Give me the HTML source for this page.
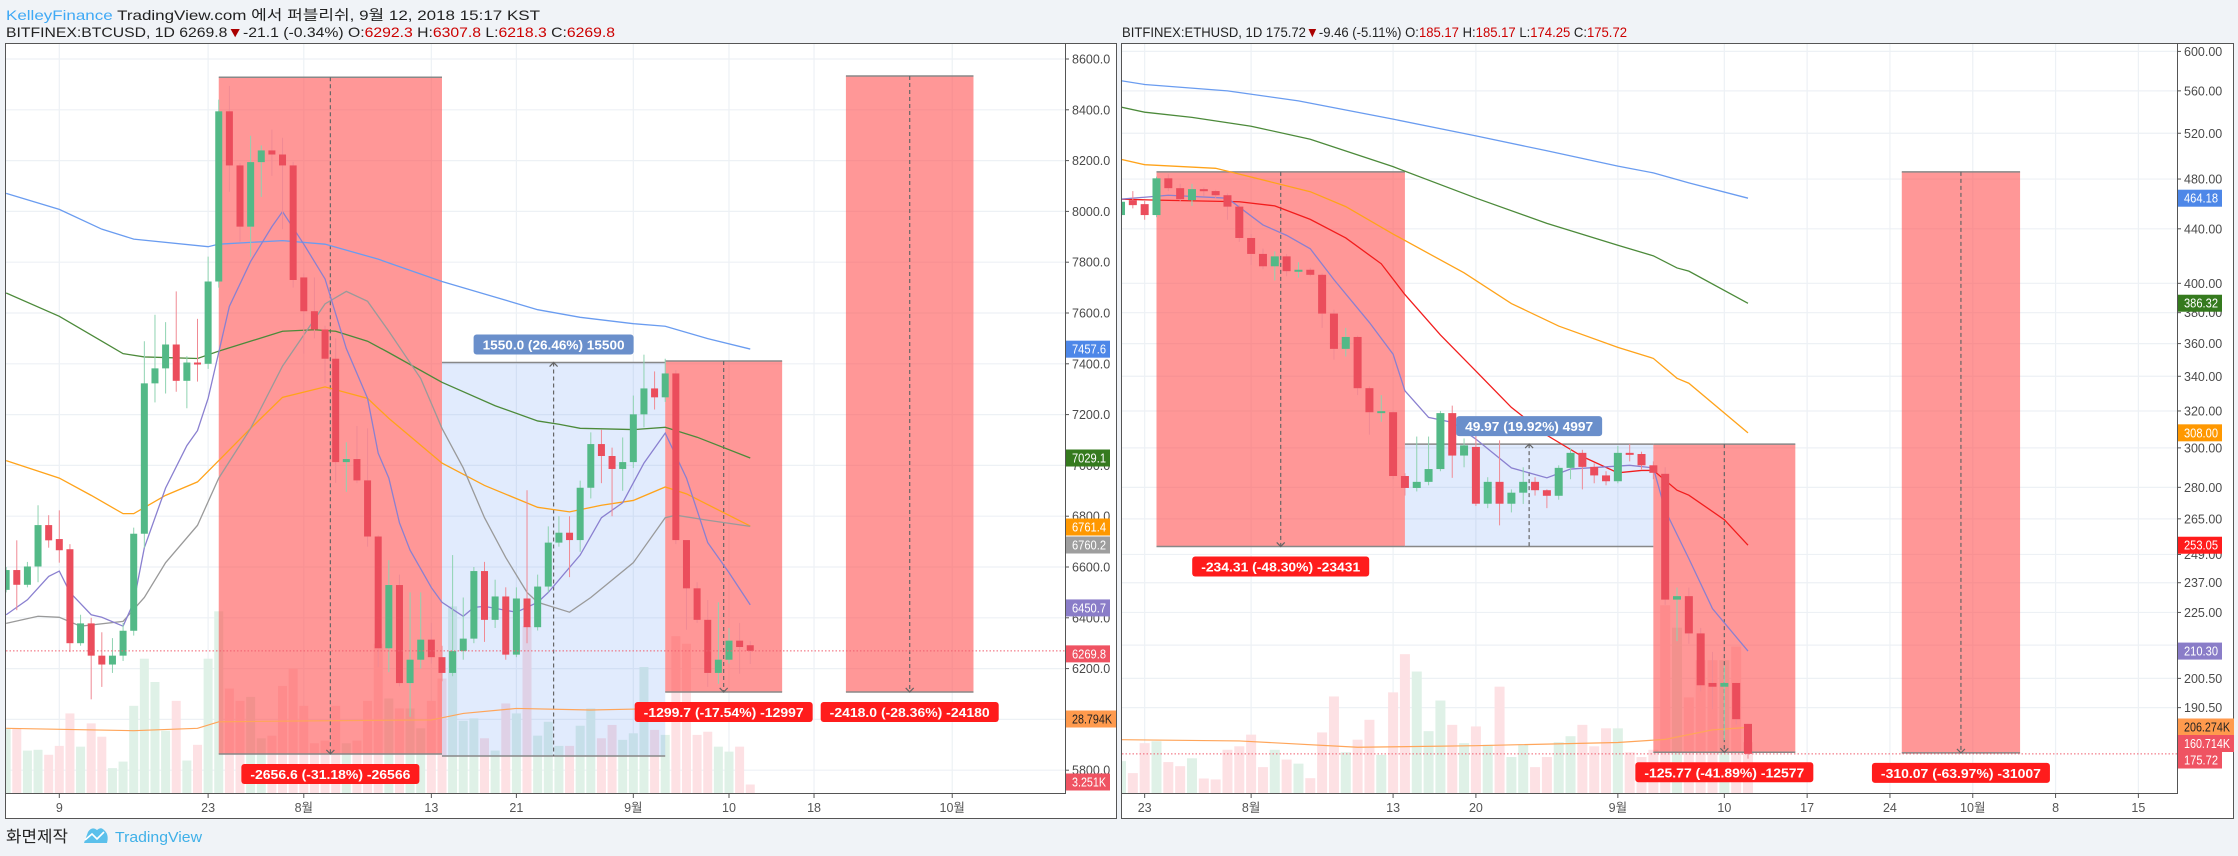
<!DOCTYPE html>
<html><head><meta charset="utf-8">
<style>
body{margin:0;background:#f0f3f7;}
svg{display:block;font-family:"Liberation Sans","Noto Sans CJK KR",sans-serif;}
</style></head>
<body>
<svg id="root" width="2238" height="856" viewBox="0 0 2238 856" xmlns="http://www.w3.org/2000/svg">
<defs>
<clipPath id="clipL"><rect x="6" y="44" width="1059" height="749"/></clipPath>
<clipPath id="clipR"><rect x="1122" y="44" width="1055" height="749"/></clipPath>
</defs>
<rect x="0" y="0" width="2238" height="856" fill="#f0f3f7"/>
<text x="6" y="20" font-size="14" fill="#222" textLength="534" lengthAdjust="spacingAndGlyphs"><tspan fill="#3fa9f5">KelleyFinance</tspan> TradingView.com 에서 퍼블리쉬, 9월 12, 2018 15:17 KST</text>
<text x="6" y="37" font-size="14" fill="#222" textLength="609" lengthAdjust="spacingAndGlyphs">BITFINEX:BTCUSD, 1D 6269.8<tspan fill="#a00">▼</tspan>-21.1 (-0.34%) O:<tspan fill="#c00">6292.3</tspan> H:<tspan fill="#c00">6307.8</tspan> L:<tspan fill="#c00">6218.3</tspan> C:<tspan fill="#c00">6269.8</tspan></text>
<text x="1122" y="37" font-size="14" fill="#222" textLength="505" lengthAdjust="spacingAndGlyphs">BITFINEX:ETHUSD, 1D 175.72<tspan fill="#a00">▼</tspan>-9.46 (-5.11%) O:<tspan fill="#c00">185.17</tspan> H:<tspan fill="#c00">185.17</tspan> L:<tspan fill="#c00">174.25</tspan> C:<tspan fill="#c00">175.72</tspan></text>
<rect x="5.5" y="43.5" width="1111" height="775" fill="#fff" stroke="#555"/>
<rect x="1121.5" y="43.5" width="1112" height="775" fill="#fff" stroke="#555"/>
<g id="gL"></g>
<g id="gR"></g>
<text x="6" y="842" font-size="16" fill="#222" textLength="62" lengthAdjust="spacingAndGlyphs">화면제작</text>
<path d="M84 843 L88 832 Q92 826 97 830 Q101 826 105 831 Q109 835 107 843 Z" fill="#5bc0eb"/>
<path d="M85 840 L92 834 L97 839 L104 832" fill="none" stroke="#fff" stroke-width="1.6"/>
<text x="115" y="842" font-size="15" fill="#3fb0e8" textLength="87" lengthAdjust="spacingAndGlyphs">TradingView</text>
</svg>
<script>
// ===== BTC data (daily, starting Jul 4) =====
const btcOpen  = [6510,6588,6530,6602,6765,6710,6670,6300,6378,6251,6216,6251,6349,6731,7323,7382,7476,7333,7405,7400,7724,8394,8181,7940,8194,8240,8224,8181,7740,7607,7535,7420,7013,7025,6941,6720,6280,6529,6143,6235,6314,6245,6183,6269,6318,6584,6392,6484,6255,6476,6363,6523,6696,6735,6706,6912,7084,7037,6986,7013,7201,7303,7268,7362,6706,6516,6392,6183,6235,6310,6292];
const btcHigh  = [6600,6705,6620,6843,6804,6823,6690,6412,6400,6343,6320,6380,6755,7489,7593,7564,7685,7430,7577,7822,8440,8494,8190,8298,8260,8322,8290,8195,7755,7740,7550,7500,7091,7155,7146,6725,6627,6570,6500,6500,6380,6290,6647,6480,6600,6620,6550,6520,6520,6902,6570,6760,6800,6800,6940,7130,7140,7070,7110,7275,7436,7370,7420,7375,6706,6540,6470,6461,6360,6380,6308];
const btcLow   = [6500,6430,6520,6540,6676,6617,6265,6290,6079,6128,6183,6230,6330,6676,7248,7283,7290,7225,7330,7380,7700,8077,7881,7822,8057,8140,7930,7700,7440,7500,7323,6931,6896,6930,6680,6206,6186,6130,6010,6200,6220,6150,6170,6235,6300,6305,6360,6235,6245,6300,6350,6500,6680,6560,6660,6870,6930,6800,6900,6990,7150,7220,7250,6690,6353,6380,6128,6140,6220,6180,6218];
const btcClose = [6588,6530,6602,6765,6705,6666,6300,6378,6251,6216,6251,6349,6731,7323,7382,7476,7333,7405,7400,7724,8394,8181,7940,8194,8240,8224,8181,7730,7607,7535,7420,7013,7025,6941,6720,6280,6529,6143,6235,6314,6245,6183,6269,6318,6584,6392,6484,6255,6476,6363,6523,6696,6735,6706,6912,7084,7037,6986,7013,7201,7303,7268,7362,6706,6516,6392,6183,6235,6310,6285,6269.8];
const btcVol   = [24.7,24.7,16.2,16.5,14.6,18,30.4,17.7,26.6,21.5,9.5,12,33.3,51.3,42.4,23.8,35.2,12.4,18.4,51.3,69.4,39.9,35.2,36.7,20.9,21.9,40.9,47.5,33.3,19,20,33.3,19,20,35.2,57,36.1,32.3,32.3,24.7,35.2,43.7,71.3,27.6,28.5,20.9,16.2,34.2,30.4,63.7,21.9,27.2,18,18,25.7,32.3,20.9,26,20.3,22.8,48.1,24.1,22.2,59.9,57,22.2,23.4,17.7,15.8,17.7,3.25];
const btcVolMaDays = [0,12,18,20,30,40,43,48,55,62,70];
const btcVolMaVals = [24.7,23.8,24.7,27.2,27.6,27.9,30.4,32.3,31.7,32.3,32.9];
const btcMaBlueDays = [0,5,9,12,19,20,26,30,35,41,45,50,54,59,62,66,70];
const btcMaBlueVals = [8071,8008,7930,7891,7861,7871,7885,7871,7812,7724,7675,7613,7583,7558,7548,7499,7458];
const btcMaGreenDays = [0,5,9,11,13,18,20,26,29,31,34,36,41,46,50,52,54,59,62,65,70];
const btcMaGreenVals = [7679,7587,7489,7440,7427,7421,7450,7528,7534,7528,7489,7444,7327,7235,7175,7162,7146,7141,7150,7111,7029];
const btcMaOrangeDays = [0,5,8,11,12,15,18,20,23,26,30,34,36,41,45,50,53,56,59,62,64,70];
const btcMaOrangeVals = [7019,6950,6882,6810,6810,6882,6935,7019,7146,7268,7309,7264,7185,7009,6921,6835,6817,6843,6862,6915,6888,6761];
const btcMaPurpleDays = [0,2,4,5,6,8,9,11,12,13,15,17,18,19,21,23,25,26,28,30,32,34,35,36,37,38,40,41,43,44,45,48,50,51,54,56,58,60,62,64,66,68,70];
const btcMaPurpleVals = [6412,6471,6563,6584,6500,6412,6402,6367,6461,6676,6911,7078,7137,7264,7626,7803,7940,7999,7871,7734,7460,7264,7048,6950,6774,6666,6519,6461,6406,6441,6445,6422,6461,6500,6647,6794,6853,7009,7127,6950,6696,6578,6451];
const btcMaGrayDays = [0,3,5,7,11,13,15,18,20,23,26,30,32,34,36,39,41,43,45,47,49,50,53,55,59,62,63,66,70];
const btcMaGrayVals = [6378,6406,6402,6367,6386,6480,6617,6764,6950,7146,7391,7636,7685,7646,7528,7342,7146,6990,6794,6637,6500,6461,6422,6480,6617,6794,6804,6784,6760];
const btcPriceTicks = [8600,8400,8200,8000,7800,7600,7400,7200,7000,6800,6600,6400,6200,6000,5800];
const btcDateTickDays = [5,19,28,40,48,59,68,76,89];
const btcDateTickLabels = ['9','23','8월','13','21','9월','10','18','10월'];
const btcBoxStart = [20,41,62,79];
const btcBoxEnd = [41,62,73,91];
const btcBoxTop = [8528,7405,7411,8533];
const btcBoxBottom = [5864,5856,6108,6108];
const btcBoxKind = ['down','up','down','down'];
const btcBoxLabels = ['-2656.6 (-31.18%) -26566','1550.0 (26.46%) 15500','-1299.7 (-17.54%) -12997','-2418.0 (-28.36%) -24180'];
const btcLastClose = 6269.8;

// ===== ETH data (daily, starting Jul 21) =====
const ethOpen  = [450.7,462.6,459.4,450.7,480.6,472.4,462.6,471.6,470,466.6,457.4,433,421.1,412.1,419.3,408.6,409.6,406,379.4,356.7,364.2,333,319.3,319.3,285.6,279.7,282.7,289.1,318.8,296,300.5,272.1,282.7,272.1,277.4,282.7,278.6,275.9,289.7,297.4,290.2,285.9,283,297.4,296.8,291,286.7,230.1,231.5,216.9,198.9,197.6,198.9,185.17];
const ethHigh  = [463,470,462,482,484,476,476,473,471,468,459,436,425,423,421,415,411,407,382,370,365,334,329,320,287,306,306,320,323,305,307,285,304,279,290,285,279,291,300,299,292,288,301,302,298,293,290,235,235,219,210,205,199,185.17];
const ethLow   = [448,456,447,449,470,461,458,466,464,447,430,413,410,402,405,404,405,370,350,352,329,307,314,284,276,278,281,288,284.7,290,271,270,262,268,272,276,270,274,284,279,282,281,282,293,289,284,228,214,213,196,190,180,185,174.25];
const ethClose = [461.3,458.6,450.7,480.6,472.4,463.4,471.6,469.9,466.6,457.4,433,421.1,412.1,419.3,408.6,409.6,406,379.4,356.7,364.2,333,319.3,319.9,285.6,279.7,282.7,289.1,318.8,296,301.3,272.1,282.7,272.1,277.4,282.7,278.6,275.9,289.7,297.4,290.2,285.9,283,297.4,296.8,291,287.2,230.1,231.5,216.9,198.1,197.6,198.9,186.7,175.72];
const ethVol   = [101,63,158,164,98,85,110,46,43,137,148,185,82,137,106,93,47,192,306,129,169,232,121,319,440,385,196,293,216,158,211,153,337,114,153,82,114,161,180,216,148,205,205,129,114,137,595,524,303,421,421,421,464,161];
const ethVolMaDays = [0,10,20,30,42,46,50,53];
const ethVolMaVals = [169,165,145,150,160,170,200,208];
const ethMaBlueDays = [0,2,9,15,23,30,36,42,45,48,53];
const ethMaBlueVals = [570,566.3,560,550.3,533,517.6,504.3,491,485.2,476.8,464.2];
const ethMaGreenDays = [0,2,6,11,16,23,30,36,42,45,47,48,53];
const ethMaGreenVals = [544.3,539.5,534.6,526.4,514.6,490.5,464.3,444.2,427.5,419.7,410.9,408.6,386.3];
const ethMaOrangeDays = [0,2,8,16,19,23,29,33,37,42,45,47,48,53];
const ethMaOrangeVals = [496.8,492.2,489.1,469.5,457.4,436,407.4,386.1,371.2,357.6,350.8,338.8,335.9,308];
const ethMaRedDays = [0,3,10,13,16,19,22,24,27,30,33,36,39,42,44,45,47,48,51,53];
const ethMaRedVals = [463.4,462.6,461.3,458,447.3,433,413.9,392.2,365.5,343.1,322,306.7,295.5,287.2,288.4,288.4,278.6,276.2,264.6,253.05];
const ethMaPurpleDays = [0,4,9,12,14,16,18,21,23,24,26,28,30,33,36,38,43,45,46,48,50,53];
const ethMaPurpleVals = [463.4,466.6,464.2,443,435,424.9,402.6,373.5,353.4,331.5,316.4,313.7,304.6,289.7,284.7,289.1,291,289.7,269,247.2,226.5,210.3];
const ethPriceTicks = [600,560,520,480,440,400,380,360,340,320,300,280,265,249,237,225,212.5,200.5,190.5];
const ethDateTickDays = [2,11,23,30,42,51,58,65,72,79,86];
const ethDateTickLabels = ['23','8월','13','20','9월','10','17','24','10월','8','15'];
const ethBoxStart = [3,24,45,66];
const ethBoxEnd = [24,45,57,76];
const ethBoxTop = [486,302,302,486];
const ethBoxBottom = [252.5,252.5,176.2,176];
const ethBoxKind = ['down','up','down','down'];
const ethBoxLabels = ['-234.31 (-48.30%) -23431','49.97 (19.92%) 4997','-125.77 (-41.89%) -12577','-310.07 (-63.97%) -31007'];
const ethLastClose = 175.72;

const NS = 'http://www.w3.org/2000/svg';
function mk(tag, attrs, parent){
  const e = document.createElementNS(NS, tag);
  for (const k in attrs) e.setAttribute(k, attrs[k]);
  parent.appendChild(e);
  return e;
}
const GREEN = '#53b987', RED = '#eb4d5c';

const xL = d => 59.3 + (d - 5) * 10.63;
const yL = p => 59 + (8600 - p) / 200 * 50.8;
const vL = v => v * 2.618;
const xR = d => 1121 + d * 11.83;
const yR = p => 51.4 + Math.log(600 / p) * 572;
const vR = v => v * 0.3155;

function buildChart(cfg){
  const root = document.getElementById(cfg.gid);
  const grid = mk('g', {}, root);
  
  
  cfg.ticks.forEach(t => {
    const y = cfg.y(t);
    const ln = mk('line', {x1: cfg.left, x2: cfg.right, y1: y, y2: y, stroke: '#edf1f5', 'stroke-width': 1.2}, grid);
    
    
  });
  cfg.dateDays.forEach(d => {
    const x = cfg.x(d);
    const ln = mk('line', {x1: x, x2: x, y1: 44, y2: 793, stroke: '#edf1f5', 'stroke-width': 1.2}, grid);
    
    
  });
  const plot = mk('g', {'clip-path': 'url(#' + cfg.clip + ')'}, root);
  
  
  const vg = mk('g', {}, plot);
  
  
  cfg.vol.forEach((v, i) => {
    const h = cfg.v(v);
    const up = cfg.C[i] >= cfg.O[i];
    const b = mk('rect', {x: cfg.x(i) - cfg.vw / 2, y: 793 - h, width: cfg.vw, height: h, fill: up ? '#dff1e7' : '#fde1e4'}, vg);
    
    
  });
  const bg = mk('g', {}, plot);
  
  
  cfg.boxStart.forEach((s, i) => {
    const x1 = cfg.x(s), x2 = cfg.x(cfg.boxEnd[i]);
    const y1 = cfg.y(cfg.boxTop[i]), y2 = cfg.y(cfg.boxBottom[i]);
    const down = cfg.boxKind[i] === 'down';
    const r = mk('rect', {x: x1, y: y1, width: x2 - x1, height: y2 - y1, fill: down ? 'rgba(255,82,82,0.6)' : 'rgba(66,133,244,0.16)'}, bg);
    
    
    const t = mk('line', {x1: x1, x2: x2, y1: y1, y2: y1, stroke: '#888', 'stroke-width': 1.5}, bg);
    
    
    const bt = mk('line', {x1: x1, x2: x2, y1: y2, y2: y2, stroke: '#888', 'stroke-width': 1.5}, bg);
    
    
    const mx = (x1 + x2) / 2;
    const dl = mk('line', {x1: mx, x2: mx, y1: y1, y2: y2, stroke: '#666', 'stroke-width': 1.2, 'stroke-dasharray': '4 3'}, bg);
    
    
    const ay = down ? y2 : y1, s2 = down ? -4 : 4;
    const ar = mk('path', {d: `M${mx-4} ${ay+s2} L${mx} ${ay} L${mx+4} ${ay+s2}`, fill: 'none', stroke: '#666', 'stroke-width': 1.2}, bg);
    
    
  });
  const vpts = cfg.volMaDays.map((d, i) => cfg.x(d) + ',' + (793 - cfg.v(cfg.volMaVals[i]))).join(' ');
  const vma = mk('polyline', {points: vpts, fill: 'none', stroke: '#ffa55a', 'stroke-width': 1.2}, plot);
  
  
  cfg.mas.forEach(m => {
    const pts = m.days.map((d, i) => cfg.x(d) + ',' + cfg.y(m.vals[i])).join(' ');
    const pl = mk('polyline', {points: pts, fill: 'none', stroke: m.color, 'stroke-width': 1.3}, plot);
    
    
  });
  const cg = mk('g', {}, plot);
  
  
  cfg.O.forEach((o, i) => {
    const c = cfg.C[i], up = c >= o, col = up ? GREEN : RED;
    const x = cfg.x(i);
    const w = mk('line', {x1: x, x2: x, y1: cfg.y(cfg.H[i]), y2: cfg.y(cfg.L[i]), stroke: up ? '#8fd3b1' : '#f08a94', 'stroke-width': 1}, cg);
    
    
    const yt = cfg.y(Math.max(o, c)), yb = cfg.y(Math.min(o, c));
    const b = mk('rect', {x: x - cfg.bw / 2, y: yt, width: cfg.bw, height: Math.max(yb - yt, 2), fill: col}, cg);
    
    
  });
  const cy = cfg.y(cfg.last);
  const cl = mk('line', {x1: cfg.left, x2: cfg.right, y1: cy, y2: cy, stroke: '#f06070', 'stroke-width': 1, 'stroke-dasharray': '1.5 2'}, root);
  
  
  cfg.boxStart.forEach((s, i) => {
    const x1 = cfg.x(s), x2 = cfg.x(cfg.boxEnd[i]), mx = (x1 + x2) / 2;
    const down = cfg.boxKind[i] === 'down';
    const ly = down ? cfg.y(cfg.boxBottom[i]) + 10 : cfg.y(cfg.boxTop[i]) - 28;
    const w = cfg.boxLabelW[i];
    const r = mk('rect', {x: mx - w / 2, y: ly, width: w, height: 20, rx: 3, fill: down ? '#ff1c1c' : '#6a8fcb'}, root);
    
    
    const t = mk('text', {x: mx, y: ly + 15, 'font-size': 13, 'font-weight': 'bold', fill: '#fff', 'text-anchor': 'middle', textLength: w - 18, lengthAdjust: 'spacingAndGlyphs'}, root);
    t.textContent = cfg.boxLabels[i];
    
    
  });
  const ax = mk('path', {d: `M${cfg.right+0.5} 43 V793.5 H${cfg.left}`, fill: 'none', stroke: '#555', 'stroke-width': 1}, root);
  
  
  cfg.ticks.forEach((t, i) => {
    const y = cfg.y(t);
    if (cfg.hideTicks.indexOf(t) >= 0) return;
    const tk = mk('line', {x1: cfg.right, x2: cfg.right + 4, y1: y, y2: y, stroke: '#555'}, root);
    
    
    const tx = mk('text', {x: cfg.right + 7, y: y + 4.5, 'font-size': 12.5, fill: '#4a4a4a'}, root);
    tx.textContent = t.toFixed(cfg.dec);
    
    
  });
  cfg.dateDays.forEach((d, i) => {
    const x = cfg.x(d);
    const tk = mk('line', {x1: x, x2: x, y1: 793, y2: 798, stroke: '#555'}, root);
    
    
    const tx = mk('text', {x: x, y: 812, 'font-size': 12.5, fill: '#555', 'text-anchor': 'middle'}, root);
    tx.textContent = cfg.dateLabels[i];
    
    
  });
  cfg.tags.forEach(tg => {
    const r = mk('rect', {x: cfg.right + 1, y: tg.y - 8.5, width: tg.w, height: 17, fill: tg.bg}, root);
    
    
    const t = mk('text', {x: cfg.right + 7, y: tg.y + 4.5, 'font-size': 12.5, fill: tg.fg, textLength: tg.w - 10, lengthAdjust: 'spacingAndGlyphs'}, root);
    t.textContent = tg.text;
    
    
  });
}

buildChart({
  gid: 'gL', pre: 'btc', clip: 'clipL', left: 6, right: 1065, x: xL, y: yL, v: vL, bw: 7, vw: 9, dec: 1,
  O: btcOpen, H: btcHigh, L: btcLow, C: btcClose, vol: btcVol,
  volMaDays: btcVolMaDays, volMaVals: btcVolMaVals,
  mas: [
    {days: btcMaBlueDays, vals: btcMaBlueVals, color: '#6a9cf0', name: 'ma-blue-line'},
    {days: btcMaGreenDays, vals: btcMaGreenVals, color: '#4c8a3a', name: 'ma-green-line'},
    {days: btcMaOrangeDays, vals: btcMaOrangeVals, color: '#ffa31a', name: 'ma-orange-line'},
    {days: btcMaGrayDays, vals: btcMaGrayVals, color: '#9a9a9a', name: 'ma-gray-line'},
    {days: btcMaPurpleDays, vals: btcMaPurpleVals, color: '#8a80d0', name: 'ma-purple-line'}
  ],
  ticks: btcPriceTicks, hideTicks: [], dateDays: btcDateTickDays, dateLabels: btcDateTickLabels,
  boxStart: btcBoxStart, boxEnd: btcBoxEnd, boxTop: btcBoxTop, boxBottom: btcBoxBottom, boxKind: btcBoxKind,
  boxLabels: btcBoxLabels, boxLabelW: [178, 160, 178, 178], last: btcLastClose,
  tags: [
    {y: yL(7457.6), w: 44, bg: '#4d87e8', fg: '#fff', text: '7457.6'},
    {y: yL(7029.1), w: 44, bg: '#357a1e', fg: '#fff', text: '7029.1'},
    {y: yL(6761.4) + 1, w: 44, bg: '#ff9800', fg: '#fff', text: '6761.4'},
    {y: yL(6761.4) + 19, w: 44, bg: '#9e9e9e', fg: '#fff', text: '6760.2'},
    {y: yL(6450.7) + 3, w: 44, bg: '#8a7dc8', fg: '#fff', text: '6450.7'},
    {y: yL(btcLastClose) + 3, w: 44, bg: '#ef5362', fg: '#fff', text: '6269.8'},
    {y: 719, w: 50, bg: '#ff9a4d', fg: '#222', text: '28.794K'},
    {y: 782, w: 44, bg: '#ef5362', fg: '#fff', text: '3.251K'}
  ]
});

buildChart({
  gid: 'gR', pre: 'eth', clip: 'clipR', left: 1122, right: 2177, x: xR, y: yR, v: vR, bw: 8, vw: 10, dec: 2,
  O: ethOpen, H: ethHigh, L: ethLow, C: ethClose, vol: ethVol,
  volMaDays: ethVolMaDays, volMaVals: ethVolMaVals,
  mas: [
    {days: ethMaBlueDays, vals: ethMaBlueVals, color: '#6a9cf0', name: 'ma-blue-line'},
    {days: ethMaGreenDays, vals: ethMaGreenVals, color: '#4c8a3a', name: 'ma-green-line'},
    {days: ethMaOrangeDays, vals: ethMaOrangeVals, color: '#ffa31a', name: 'ma-orange-line'},
    {days: ethMaRedDays, vals: ethMaRedVals, color: '#f21d1d', name: 'ma-red-line'},
    {days: ethMaPurpleDays, vals: ethMaPurpleVals, color: '#8a80d0', name: 'ma-purple-line'}
  ],
  ticks: ethPriceTicks, hideTicks: [212.5], dateDays: ethDateTickDays, dateLabels: ethDateTickLabels,
  boxStart: ethBoxStart, boxEnd: ethBoxEnd, boxTop: ethBoxTop, boxBottom: ethBoxBottom, boxKind: ethBoxKind,
  boxLabels: ethBoxLabels, boxLabelW: [177, 146, 178, 178], last: ethLastClose,
  tags: [
    {y: yR(464.18), w: 44, bg: '#4d87e8', fg: '#fff', text: '464.18'},
    {y: yR(386.32), w: 44, bg: '#357a1e', fg: '#fff', text: '386.32'},
    {y: yR(308), w: 44, bg: '#ff9800', fg: '#fff', text: '308.00'},
    {y: yR(253.05), w: 44, bg: '#ff1c1c', fg: '#fff', text: '253.05'},
    {y: yR(210.3), w: 44, bg: '#8a7dc8', fg: '#fff', text: '210.30'},
    {y: 727, w: 56, bg: '#ff9a4d', fg: '#222', text: '206.274K'},
    {y: 743.5, w: 56, bg: '#ef5362', fg: '#fff', text: '160.714K'},
    {y: 760, w: 44, bg: '#ef5362', fg: '#fff', text: '175.72'}
  ]
});
</script>
</body></html>
